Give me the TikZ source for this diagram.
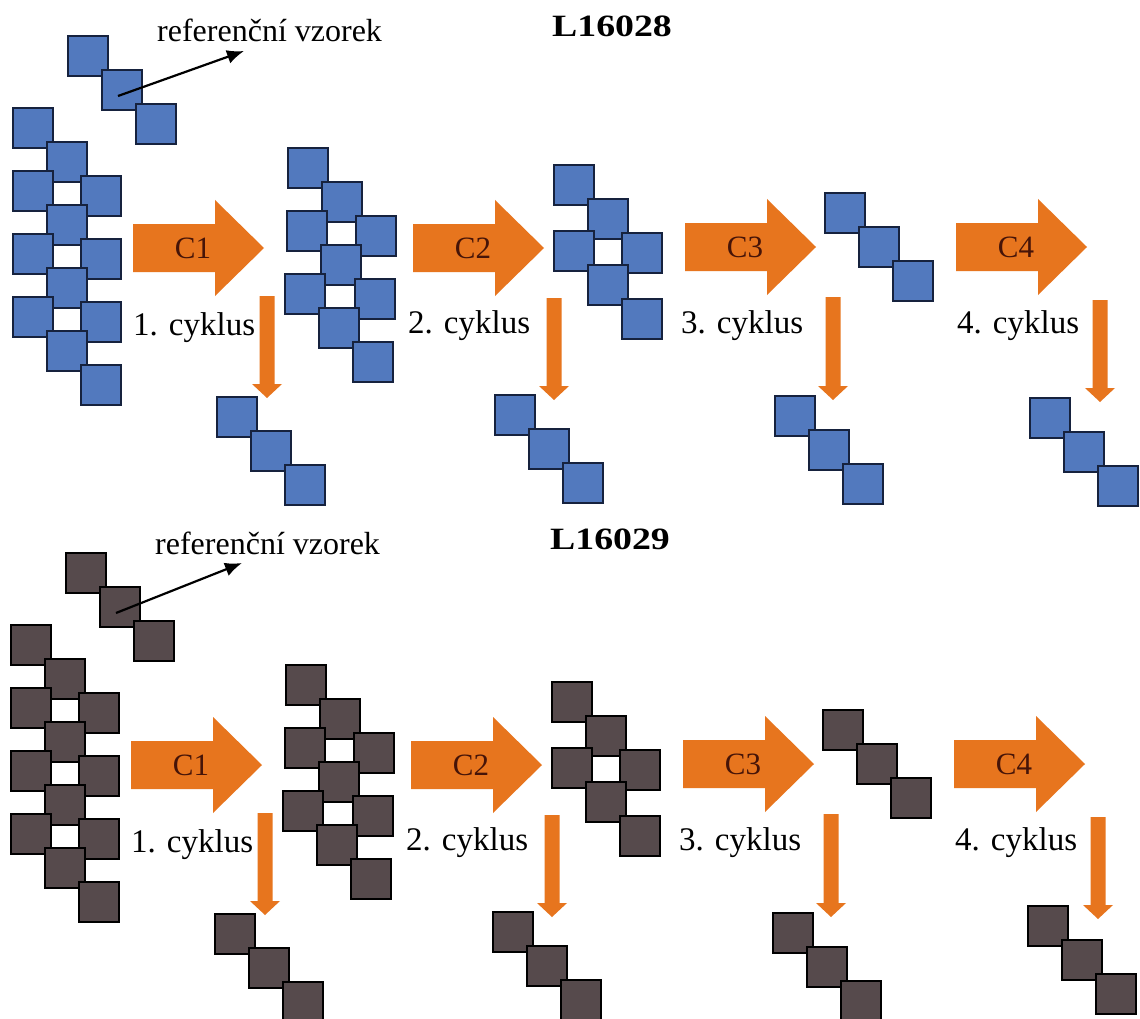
\documentclass[tikz,border=0pt]{standalone}
\usepackage{fontspec}
\setmainfont{Liberation Serif}
\usetikzlibrary{arrows.meta}
\definecolor{orng}{RGB}{231,117,30}
\definecolor{sqblue}{RGB}{82,121,190}
\definecolor{sqblueb}{RGB}{22,34,62}
\definecolor{sqbrown}{RGB}{86,74,76}
\definecolor{clab}{RGB}{70,20,8}
\tikzset{
  sq/.style={rectangle, line width=1.8pt, minimum size=40pt, inner sep=0pt, outer sep=0pt},
  bluesq/.style={sq, fill=sqblue, draw=sqblueb},
  brownsq/.style={sq, fill=sqbrown, draw=black},
  clabel/.style={font=\fontsize{31}{31}\selectfont, text=clab, inner sep=0pt},
  cyc/.style={font=\fontsize{33}{33}\selectfont, anchor=base west, inner sep=0pt},
  reftext/.style={font=\fontsize{32}{32}\selectfont, anchor=base west, inner sep=0pt},
  titletext/.style={font=\bfseries\fontsize{31}{31}\selectfont, anchor=base, inner sep=0pt, xscale=1.22, transform shape},
  refarrow/.style={line width=2.2pt, -{Latex[length=17pt,width=14pt]}},
}
\newcommand\triplet[3]{%
  \node[cursq] (#3-1) at ({#1+20},{#2+20}) {};
  \node[cursq] (#3-2) at ({#1+54},{#2+54}) {};
  \node[cursq] (#3-3) at ({#1+88},{#2+88}) {};}
\newcommand\bigarr[4]{%
  \fill[orng] (#1,{#2-24}) -- ({#1+82},{#2-24}) -- ({#1+82},{#2-48}) -- ({#1+131},#2)
     -- ({#1+82},{#2+48}) -- ({#1+82},{#2+24}) -- (#1,{#2+24}) -- cycle;
  \node[clabel] (#4) at ({#1+60},#2) {#3};}
\newcommand\downarr[4]{%
  \fill[orng] ({#1-7.5},#2) -- ({#1+7.5},#2) -- ({#1+7.5},{#3-14}) -- ({#1+15},{#3-14})
     -- (#1,#3) -- ({#1-15},{#3-14}) -- ({#1-7.5},{#3-14}) -- cycle;
  \coordinate (#4) at (#1,#3);}
\newcommand\panel[7]{%
  \begin{scope}[shift={(#4,#6)}]
    \node[titletext] (title#1) at (612,37) {#3};
    \node[reftext] (reftext#1) at (157,42) {referenční vzorek};
    \coordinate (refend#1) at (244,51);
  \end{scope}
  \begin{scope}[shift={(#4,#5)}]
    \tikzset{cursq/.style={#2}}
    % reference sample
    \triplet{68}{36}{ref#1}
    % initial stack
    \triplet{13}{108}{a1#1}
    \triplet{13}{171}{a2#1}
    \triplet{13}{234}{a3#1}
    \triplet{13}{297}{a4#1}
    % after cycle 1
    \triplet{288}{148}{b1#1}
    \triplet{287}{211}{b2#1}
    \triplet{285}{274}{b3#1}
    % after cycle 2
    \triplet{554}{165}{c1#1}
    \triplet{554}{231}{c2#1}
    % after cycle 3
    \triplet{825}{193}{d1#1}
    % removed samples
    \triplet{217}{397}{r1#1}
    \triplet{495}{395}{r2#1}
    \triplet{775}{396}{r3#1}
    \triplet{1030}{#7}{r4#1}
    % big arrows
    \bigarr{133}{248}{C1}{C1#1}
    \bigarr{413}{248}{C2}{C2#1}
    \bigarr{685}{247}{C3}{C3#1}
    \bigarr{956}{247}{C4}{C4#1}
    % down arrows
    \downarr{267}{296}{398}{d1tip#1}
    \downarr{554}{298}{400}{d2tip#1}
    \downarr{833}{297}{400}{d3tip#1}
    \downarr{1100}{300}{402}{d4tip#1}
    % cycle labels
    \node[cyc] (k1#1) at (133,335) {1. cyklus};
    \node[cyc] (k2#1) at (408,333) {2. cyklus};
    \node[cyc] (k3#1) at (681,333) {3. cyklus};
    \node[cyc] (k4#1) at (957,333) {4. cyklus};
  \end{scope}
  \draw[refarrow] ([shift={(-4,6)}]ref#1-2.center) -- (refend#1);
}
\begin{document}
\begin{tikzpicture}[x=1pt,y=-1pt]
  \fill[white] (0,0) rectangle (1140,1019);
  \useasboundingbox (0,0) rectangle (1140,1019);
  \panel{T}{bluesq}{L16028}{0}{0}{0}{398}
  \panel{B}{brownsq}{L16029}{-2}{517}{512}{389}
\end{tikzpicture}
\end{document}
